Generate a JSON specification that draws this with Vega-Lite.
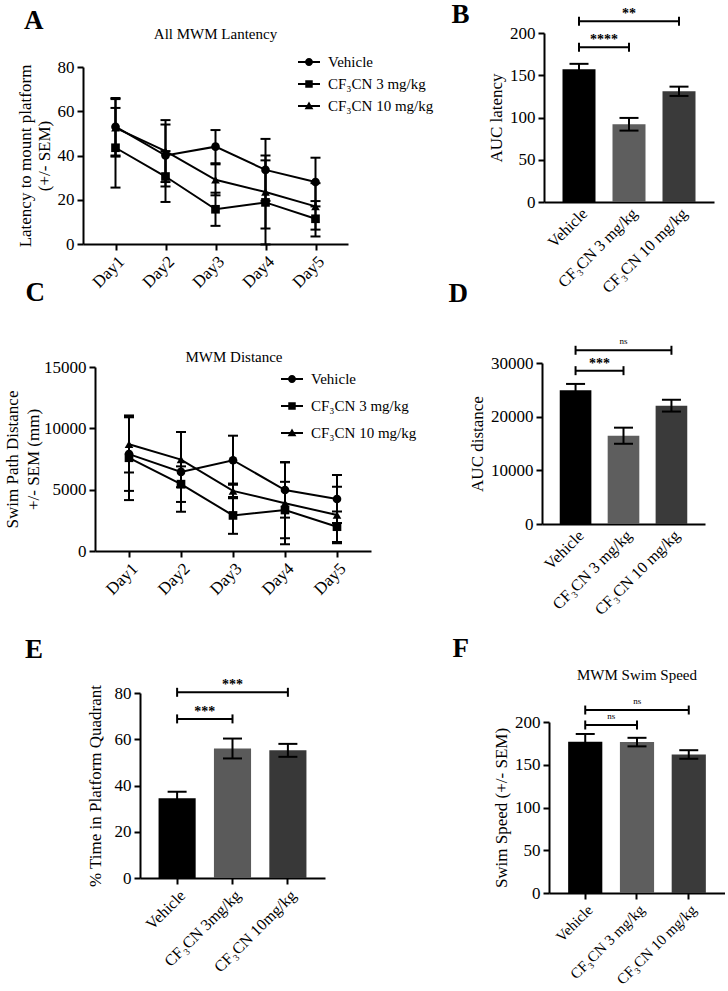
{
"$schema": "https://vega.github.io/schema/vega-lite/v6.json",
"padding": {"left": 3, "top": 1, "right": 0, "bottom": 0},
"spacing": -17,
"align": "each",
"resolve": {"scale": {"shape": "independent", "color": "independent"}, "legend": {"shape": "independent"}},
"config": {
  "font": "Liberation Serif",
  "view": {"stroke": null},
  "axis": {"domainColor": "#000", "domainWidth": 2, "tickColor": "#000", "tickWidth": 2, "tickSize": 6, "labelFont": "Liberation Serif", "labelFontSize": 17, "labelColor": "#000", "titleFont": "Liberation Serif", "titleFontSize": 17, "titleFontWeight": "normal", "titleColor": "#000", "grid": false, "labelPadding": 3},
  "legend": {"labelFont": "Liberation Serif", "labelFontSize": 15, "labelColor": "#000"},
  "title": {"font": "Liberation Serif", "color": "#000"}
},
"datasets": {
  "latency": [
    {"day": "Day1", "group": "Vehicle", "mean": 53, "sem": 13},
    {"day": "Day2", "group": "Vehicle", "mean": 40, "sem": 14},
    {"day": "Day3", "group": "Vehicle", "mean": 44, "sem": 7.5},
    {"day": "Day4", "group": "Vehicle", "mean": 33.5, "sem": 14},
    {"day": "Day5", "group": "Vehicle", "mean": 28, "sem": 11},
    {"day": "Day1", "group": "CF₃CN 3 mg/kg", "mean": 43.5, "sem": 18},
    {"day": "Day2", "group": "CF₃CN 3 mg/kg", "mean": 30.5, "sem": 11.5},
    {"day": "Day3", "group": "CF₃CN 3 mg/kg", "mean": 15.7, "sem": 7.5},
    {"day": "Day4", "group": "CF₃CN 3 mg/kg", "mean": 18.8, "sem": 19},
    {"day": "Day5", "group": "CF₃CN 3 mg/kg", "mean": 11.4, "sem": 8},
    {"day": "Day1", "group": "CF₃CN 10 mg/kg", "mean": 52.5, "sem": 13},
    {"day": "Day2", "group": "CF₃CN 10 mg/kg", "mean": 42, "sem": 14},
    {"day": "Day3", "group": "CF₃CN 10 mg/kg", "mean": 29, "sem": 7},
    {"day": "Day4", "group": "CF₃CN 10 mg/kg", "mean": 23.5, "sem": 16.5},
    {"day": "Day5", "group": "CF₃CN 10 mg/kg", "mean": 17, "sem": 10.5}
  ],
  "distance": [
    {"day": "Day1", "group": "Vehicle", "mean": 7900, "sem": 3000},
    {"day": "Day2", "group": "Vehicle", "mean": 6450, "sem": 3250},
    {"day": "Day3", "group": "Vehicle", "mean": 7400, "sem": 2000},
    {"day": "Day4", "group": "Vehicle", "mean": 4970, "sem": 2250},
    {"day": "Day5", "group": "Vehicle", "mean": 4240, "sem": 1950},
    {"day": "Day1", "group": "CF₃CN 3 mg/kg", "mean": 7600, "sem": 3450},
    {"day": "Day2", "group": "CF₃CN 3 mg/kg", "mean": 5450, "sem": 1450},
    {"day": "Day3", "group": "CF₃CN 3 mg/kg", "mean": 2900, "sem": 1500},
    {"day": "Day4", "group": "CF₃CN 3 mg/kg", "mean": 3340, "sem": 2300},
    {"day": "Day5", "group": "CF₃CN 3 mg/kg", "mean": 1980, "sem": 1250},
    {"day": "Day1", "group": "CF₃CN 10 mg/kg", "mean": 8700, "sem": 2300},
    {"day": "Day2", "group": "CF₃CN 10 mg/kg", "mean": 7450, "sem": 2250},
    {"day": "Day3", "group": "CF₃CN 10 mg/kg", "mean": 4900, "sem": 600},
    {"day": "Day4", "group": "CF₃CN 10 mg/kg", "mean": 3900, "sem": 3350},
    {"day": "Day5", "group": "CF₃CN 10 mg/kg", "mean": 2930, "sem": 2300}
  ],
  "aucLatency": [
    {"group": "Vehicle", "mean": 157, "sem": 6.5},
    {"group": "CF₃CN 3 mg/kg", "mean": 92, "sem": 7.5},
    {"group": "CF₃CN 10 mg/kg", "mean": 131, "sem": 5.5}
  ],
  "sigB": [
    {"from": "Vehicle", "to": "CF₃CN 3 mg/kg", "y": 183, "label": "****"},
    {"from": "Vehicle", "to": "CF₃CN 10 mg/kg", "y": 214, "label": "**"}
  ],
  "aucDistance": [
    {"group": "Vehicle", "mean": 24900, "sem": 1200},
    {"group": "CF₃CN 3 mg/kg", "mean": 16450, "sem": 1500},
    {"group": "CF₃CN 10 mg/kg", "mean": 22050, "sem": 1100}
  ],
  "sigD": [
    {"from": "Vehicle", "to": "CF₃CN 3 mg/kg", "y": 28570, "label": "***"},
    {"from": "Vehicle", "to": "CF₃CN 10 mg/kg", "y": 32370, "label": "ns"}
  ],
  "quadrant": [
    {"group": "Vehicle", "mean": 34.5, "sem": 2.8},
    {"group": "CF₃CN 3mg/kg", "mean": 56, "sem": 4.3},
    {"group": "CF₃CN 10mg/kg", "mean": 55.2, "sem": 2.8}
  ],
  "sigE": [
    {"from": "Vehicle", "to": "CF₃CN 3mg/kg", "y": 68.8, "label": "***"},
    {"from": "Vehicle", "to": "CF₃CN 10mg/kg", "y": 80.3, "label": "***"}
  ],
  "speed": [
    {"group": "Vehicle", "mean": 177, "sem": 9},
    {"group": "CF₃CN 3 mg/kg", "mean": 176.5, "sem": 5},
    {"group": "CF₃CN 10 mg/kg", "mean": 162, "sem": 5}
  ],
  "sigF": [
    {"from": "Vehicle", "to": "CF₃CN 3 mg/kg", "y": 196.5, "label": "ns"},
    {"from": "Vehicle", "to": "CF₃CN 10 mg/kg", "y": 214, "label": "ns"}
  ]
},
"vconcat": [
  {"hconcat": [
    {
      "title": {"text": "A", "anchor": "start", "frame": "bounds", "fontSize": 27, "fontWeight": "bold", "dx": 8, "dy": 8, "offset": 0},
      "vconcat": [{
        "title": {"text": "All MWM Lantency", "fontSize": 15, "fontWeight": "normal", "anchor": "middle", "frame": "group", "offset": 10, "dy": 19},
        "width": 265, "height": 211,
        "data": {"name": "latency"},
        "encoding": {
          "x": {"field": "day", "type": "ordinal", "scale": {"type": "point", "padding": 0.65, "domain": ["Day1", "Day2", "Day3", "Day4", "Day5"]}, "axis": {"title": null, "labelAngle": -45}},
          "y": {"field": "mean", "type": "quantitative", "scale": {"domain": [0, 80], "range": [211, 34]}, "axis": {"title": ["Latency to mount platform", "(+/- SEM)"], "titleLineHeight": 19, "values": [0, 20, 40, 60, 80]}}
        },
        "resolve": {"scale": {"shape": "independent"}},
        "layer": [
          {"mark": {"type": "line", "color": "black", "strokeWidth": 2}, "encoding": {"detail": {"field": "group", "type": "nominal"}}},
          {"mark": {"type": "errorbar", "color": "black", "ticks": {"opacity": 1}, "rule": {"opacity": 1}, "size": 10, "thickness": 2}, "encoding": {"yError": {"field": "sem"}}},
          {"mark": {"type": "point", "filled": true, "color": "black", "size": 75, "opacity": 1},
           "encoding": {"shape": {"field": "group", "type": "nominal", "scale": {"domain": ["Vehicle", "CF₃CN 3 mg/kg", "CF₃CN 10 mg/kg"], "range": ["circle", "square", "triangle-up"]}, "legend": null}}},
          {"transform": [{"filter": "false"}], "mark": {"type": "point", "filled": true, "color": "black", "opacity": 1},
           "encoding": {"shape": {"field": "group", "type": "nominal",
             "scale": {"domain": ["Vehicle", "CF₃CN 3 mg/kg", "CF₃CN 10 mg/kg"], "range": ["M-1,-0.09H1V0.09H-1Z M0.36,0A0.36,0.36,0,1,1,-0.36,0A0.36,0.36,0,1,1,0.36,0Z", "M-1,-0.09H1V0.09H-1Z M-0.34,-0.34H0.34V0.34H-0.34Z", "M-1,-0.09H1V0.09H-1Z M0,-0.42L0.4,0.3H-0.4Z"]},
             "legend": {"orient": "none", "legendX": 215, "legendY": 18, "title": null, "symbolSize": 484, "rowPadding": 3, "labelOffset": 8, "labelFontSize": 15, "symbolStrokeWidth": 0, "symbolOpacity": 1, "symbolFillColor": "black"}}}}
        ]
      }]
    },
    {
      "title": {"text": "B", "anchor": "start", "frame": "bounds", "fontSize": 27, "fontWeight": "bold", "dx": -36, "dy": 22, "offset": 0},
      "width": 170, "height": 169,
      "layer": [
        {"data": {"name": "aucLatency"}, "mark": {"type": "bar"},
         "encoding": {
           "x": {"field": "group", "type": "nominal", "scale": {"domain": ["Vehicle", "CF₃CN 3 mg/kg", "CF₃CN 10 mg/kg"], "paddingInner": 0.34, "paddingOuter": 0.37}, "axis": {"title": null, "labelAngle": -45, "ticks": false, "labelFontSize": 16}},
           "y": {"field": "mean", "type": "quantitative", "scale": {"domain": [0, 200]}, "axis": {"title": "AUC latency", "values": [0, 50, 100, 150, 200]}},
           "color": {"field": "group", "type": "nominal", "scale": {"domain": ["Vehicle", "CF₃CN 3 mg/kg", "CF₃CN 10 mg/kg"], "range": ["#000000", "#5e5e5e", "#3a3a3a"]}, "legend": null}
         }},
        {"data": {"name": "aucLatency"}, "mark": {"type": "errorbar", "color": "black", "ticks": {"opacity": 1}, "rule": {"opacity": 1}, "size": 19, "thickness": 2},
         "encoding": {
           "x": {"field": "group", "type": "nominal", "scale": {"domain": ["Vehicle", "CF₃CN 3 mg/kg", "CF₃CN 10 mg/kg"], "paddingInner": 0.34, "paddingOuter": 0.37}, "axis": {"title": null, "labelAngle": -45, "ticks": false, "labelFontSize": 16}},
           "y": {"field": "mean", "type": "quantitative", "scale": {"domain": [0, 200]}, "axis": {"title": "AUC latency", "values": [0, 50, 100, 150, 200]}},
           "yError": {"field": "sem"}
         }},
        {"data": {"name": "sigB"}, "mark": {"type": "rule", "color": "black", "strokeWidth": 2},
         "encoding": {
           "x": {"field": "from", "type": "nominal", "scale": {"domain": ["Vehicle", "CF₃CN 3 mg/kg", "CF₃CN 10 mg/kg"], "paddingInner": 0.34, "paddingOuter": 0.37}, "axis": {"title": null, "labelAngle": -45, "ticks": false, "labelFontSize": 16}},
           "x2": {"field": "to"},
           "y": {"field": "y", "type": "quantitative", "scale": {"domain": [0, 200]}, "axis": {"title": "AUC latency", "values": [0, 50, 100, 150, 200]}}
         }},
        {"data": {"name": "sigB"}, "mark": {"type": "tick", "orient": "vertical", "color": "black", "size": 9, "thickness": 2, "opacity": 1},
         "encoding": {
           "x": {"field": "from", "type": "nominal", "scale": {"domain": ["Vehicle", "CF₃CN 3 mg/kg", "CF₃CN 10 mg/kg"], "paddingInner": 0.34, "paddingOuter": 0.37}, "axis": {"title": null, "labelAngle": -45, "ticks": false, "labelFontSize": 16}},
           "y": {"field": "y", "type": "quantitative", "scale": {"domain": [0, 200]}, "axis": {"title": "AUC latency", "values": [0, 50, 100, 150, 200]}}
         }},
        {"data": {"name": "sigB"}, "mark": {"type": "tick", "orient": "vertical", "color": "black", "size": 9, "thickness": 2, "opacity": 1},
         "encoding": {
           "x": {"field": "to", "type": "nominal", "scale": {"domain": ["Vehicle", "CF₃CN 3 mg/kg", "CF₃CN 10 mg/kg"], "paddingInner": 0.34, "paddingOuter": 0.37}, "axis": {"title": null, "labelAngle": -45, "ticks": false, "labelFontSize": 16}},
           "y": {"field": "y", "type": "quantitative", "scale": {"domain": [0, 200]}, "axis": {"title": "AUC latency", "values": [0, 50, 100, 150, 200]}}
         }},
        {"data": {"name": "sigB"}, "transform": [{"filter": "datum.to === 'CF₃CN 3 mg/kg'"}], "mark": {"type": "text", "dx": 25, "dy": -3, "baseline": "alphabetic", "fontSize": 14, "fontWeight": "bold", "color": "black"},
         "encoding": {
           "x": {"field": "from", "type": "nominal", "scale": {"domain": ["Vehicle", "CF₃CN 3 mg/kg", "CF₃CN 10 mg/kg"], "paddingInner": 0.34, "paddingOuter": 0.37}, "axis": {"title": null, "labelAngle": -45, "ticks": false, "labelFontSize": 16}},
           "y": {"field": "y", "type": "quantitative", "scale": {"domain": [0, 200]}, "axis": {"title": "AUC latency", "values": [0, 50, 100, 150, 200]}},
           "text": {"field": "label"}
         }},
        {"data": {"name": "sigB"}, "transform": [{"filter": "datum.to === 'CF₃CN 10 mg/kg'"}], "mark": {"type": "text", "dx": 50, "dy": -3, "baseline": "alphabetic", "fontSize": 14, "fontWeight": "bold", "color": "black"},
         "encoding": {
           "x": {"field": "from", "type": "nominal", "scale": {"domain": ["Vehicle", "CF₃CN 3 mg/kg", "CF₃CN 10 mg/kg"], "paddingInner": 0.34, "paddingOuter": 0.37}, "axis": {"title": null, "labelAngle": -45, "ticks": false, "labelFontSize": 16}},
           "y": {"field": "y", "type": "quantitative", "scale": {"domain": [0, 200]}, "axis": {"title": "AUC latency", "values": [0, 50, 100, 150, 200]}},
           "text": {"field": "label"}
         }}
      ]
    }
  ], "spacing": 17},
  {"vconcat": [
  {"hconcat": [
    {
      "title": {"text": "C", "anchor": "start", "frame": "bounds", "fontSize": 27, "fontWeight": "bold", "dx": 22, "offset": 43},
      "vconcat": [{
        "title": {"text": "MWM Distance", "fontSize": 15, "fontWeight": "normal", "anchor": "middle", "frame": "group", "offset": 0, "dy": 7, "dx": 7},
        "width": 288, "height": 188,
        "data": {"name": "distance"},
        "encoding": {
          "x": {"field": "day", "type": "ordinal", "scale": {"type": "point", "padding": 0.654, "domain": ["Day1", "Day2", "Day3", "Day4", "Day5"], "range": [12, 288]}, "axis": {"title": null, "labelAngle": -45}},
          "y": {"field": "mean", "type": "quantitative", "scale": {"domain": [0, 15000], "range": [188, 4]}, "axis": {"title": ["Swim Path Distance", "+/- SEM (mm)"], "titleLineHeight": 21, "titlePadding": 1, "values": [0, 5000, 10000, 15000], "format": "d", "offset": -12}}
        },
        "resolve": {"scale": {"shape": "independent"}},
        "layer": [
          {"mark": {"type": "line", "color": "black", "strokeWidth": 2}, "encoding": {"detail": {"field": "group", "type": "nominal"}}},
          {"mark": {"type": "errorbar", "color": "black", "ticks": {"opacity": 1}, "rule": {"opacity": 1}, "size": 10, "thickness": 2}, "encoding": {"yError": {"field": "sem"}}},
          {"mark": {"type": "point", "filled": true, "color": "black", "size": 75, "opacity": 1},
           "encoding": {"shape": {"field": "group", "type": "nominal", "scale": {"domain": ["Vehicle", "CF₃CN 3 mg/kg", "CF₃CN 10 mg/kg"], "range": ["circle", "square", "triangle-up"]}, "legend": null}}},
          {"transform": [{"filter": "false"}], "mark": {"type": "point", "filled": true, "color": "black", "opacity": 1},
           "encoding": {"shape": {"field": "group", "type": "nominal",
             "scale": {"domain": ["Vehicle", "CF₃CN 3 mg/kg", "CF₃CN 10 mg/kg"], "range": ["M-1,-0.09H1V0.09H-1Z M0.36,0A0.36,0.36,0,1,1,-0.36,0A0.36,0.36,0,1,1,0.36,0Z", "M-1,-0.09H1V0.09H-1Z M-0.34,-0.34H0.34V0.34H-0.34Z", "M-1,-0.09H1V0.09H-1Z M0,-0.42L0.4,0.3H-0.4Z"]},
             "legend": {"orient": "none", "legendX": 198, "legendY": 5, "title": null, "symbolSize": 484, "rowPadding": 8, "labelOffset": 8, "labelFontSize": 15, "symbolStrokeWidth": 0, "symbolOpacity": 1, "symbolFillColor": "black"}}}}
        ]
      }]
    },
    {
      "title": {"text": "D", "anchor": "start", "frame": "bounds", "fontSize": 27, "fontWeight": "bold", "dx": -20, "offset": 29},
      "width": 163, "height": 161,
      "layer": [
        {"data": {"name": "aucDistance"}, "mark": {"type": "bar"},
         "encoding": {
           "x": {"field": "group", "type": "nominal", "scale": {"domain": ["Vehicle", "CF₃CN 3 mg/kg", "CF₃CN 10 mg/kg"], "paddingInner": 0.34, "paddingOuter": 0.37}, "axis": {"title": null, "labelAngle": -45, "ticks": false, "labelFontSize": 16}},
           "y": {"field": "mean", "type": "quantitative", "scale": {"domain": [0, 30000]}, "axis": {"title": "AUC distance", "values": [0, 10000, 20000, 30000], "format": "d"}},
           "color": {"field": "group", "type": "nominal", "scale": {"domain": ["Vehicle", "CF₃CN 3 mg/kg", "CF₃CN 10 mg/kg"], "range": ["#000000", "#5e5e5e", "#3a3a3a"]}, "legend": null}
         }},
        {"data": {"name": "aucDistance"}, "mark": {"type": "errorbar", "color": "black", "ticks": {"opacity": 1}, "rule": {"opacity": 1}, "size": 19, "thickness": 2},
         "encoding": {
           "x": {"field": "group", "type": "nominal", "scale": {"domain": ["Vehicle", "CF₃CN 3 mg/kg", "CF₃CN 10 mg/kg"], "paddingInner": 0.34, "paddingOuter": 0.37}, "axis": {"title": null, "labelAngle": -45, "ticks": false, "labelFontSize": 16}},
           "y": {"field": "mean", "type": "quantitative", "scale": {"domain": [0, 30000]}, "axis": {"title": "AUC distance", "values": [0, 10000, 20000, 30000], "format": "d"}},
           "yError": {"field": "sem"}
         }},
        {"data": {"name": "sigD"}, "mark": {"type": "rule", "color": "black", "strokeWidth": 2},
         "encoding": {
           "x": {"field": "from", "type": "nominal", "scale": {"domain": ["Vehicle", "CF₃CN 3 mg/kg", "CF₃CN 10 mg/kg"], "paddingInner": 0.34, "paddingOuter": 0.37}, "axis": {"title": null, "labelAngle": -45, "ticks": false, "labelFontSize": 16}},
           "x2": {"field": "to"},
           "y": {"field": "y", "type": "quantitative", "scale": {"domain": [0, 30000]}, "axis": {"title": "AUC distance", "values": [0, 10000, 20000, 30000], "format": "d"}}
         }},
        {"data": {"name": "sigD"}, "mark": {"type": "tick", "orient": "vertical", "color": "black", "size": 9, "thickness": 2, "opacity": 1},
         "encoding": {
           "x": {"field": "from", "type": "nominal", "scale": {"domain": ["Vehicle", "CF₃CN 3 mg/kg", "CF₃CN 10 mg/kg"], "paddingInner": 0.34, "paddingOuter": 0.37}, "axis": {"title": null, "labelAngle": -45, "ticks": false, "labelFontSize": 16}},
           "y": {"field": "y", "type": "quantitative", "scale": {"domain": [0, 30000]}, "axis": {"title": "AUC distance", "values": [0, 10000, 20000, 30000], "format": "d"}}
         }},
        {"data": {"name": "sigD"}, "mark": {"type": "tick", "orient": "vertical", "color": "black", "size": 9, "thickness": 2, "opacity": 1},
         "encoding": {
           "x": {"field": "to", "type": "nominal", "scale": {"domain": ["Vehicle", "CF₃CN 3 mg/kg", "CF₃CN 10 mg/kg"], "paddingInner": 0.34, "paddingOuter": 0.37}, "axis": {"title": null, "labelAngle": -45, "ticks": false, "labelFontSize": 16}},
           "y": {"field": "y", "type": "quantitative", "scale": {"domain": [0, 30000]}, "axis": {"title": "AUC distance", "values": [0, 10000, 20000, 30000], "format": "d"}}
         }},
        {"data": {"name": "sigD"}, "transform": [{"filter": "datum.to === 'CF₃CN 3 mg/kg'"}], "mark": {"type": "text", "dx": 24, "dy": -3, "baseline": "alphabetic", "fontSize": 14, "fontWeight": "bold", "color": "black"},
         "encoding": {
           "x": {"field": "from", "type": "nominal", "scale": {"domain": ["Vehicle", "CF₃CN 3 mg/kg", "CF₃CN 10 mg/kg"], "paddingInner": 0.34, "paddingOuter": 0.37}, "axis": {"title": null, "labelAngle": -45, "ticks": false, "labelFontSize": 16}},
           "y": {"field": "y", "type": "quantitative", "scale": {"domain": [0, 30000]}, "axis": {"title": "AUC distance", "values": [0, 10000, 20000, 30000], "format": "d"}},
           "text": {"field": "label"}
         }},
        {"data": {"name": "sigD"}, "transform": [{"filter": "datum.to === 'CF₃CN 10 mg/kg'"}], "mark": {"type": "text", "dx": 48, "dy": -6, "baseline": "alphabetic", "fontSize": 9, "color": "black"},
         "encoding": {
           "x": {"field": "from", "type": "nominal", "scale": {"domain": ["Vehicle", "CF₃CN 3 mg/kg", "CF₃CN 10 mg/kg"], "paddingInner": 0.34, "paddingOuter": 0.37}, "axis": {"title": null, "labelAngle": -45, "ticks": false, "labelFontSize": 16}},
           "y": {"field": "y", "type": "quantitative", "scale": {"domain": [0, 30000]}, "axis": {"title": "AUC distance", "values": [0, 10000, 20000, 30000], "format": "d"}},
           "text": {"field": "label"}
         }}
      ]
    }
  ], "spacing": 31},
  {"hconcat": [
    {
      "title": {"text": "E", "anchor": "start", "frame": "bounds", "fontSize": 27, "fontWeight": "bold", "dx": -58, "offset": 14},
      "width": 242, "height": 185,
      "layer": [
        {"data": {"name": "quadrant"}, "mark": {"type": "bar"},
         "encoding": {
           "x": {"field": "group", "type": "nominal", "scale": {"domain": ["Vehicle", "CF₃CN 3mg/kg", "CF₃CN 10mg/kg"], "paddingInner": 0.33, "paddingOuter": 0.335, "range": [57, 242]}, "axis": {"title": null, "labelAngle": -45, "labelFontSize": 16}},
           "y": {"field": "mean", "type": "quantitative", "scale": {"domain": [0, 80]}, "axis": {"title": "% Time in Platform Quadrant", "titlePadding": 10, "values": [0, 20, 40, 60, 80], "offset": -57}},
           "color": {"field": "group", "type": "nominal", "scale": {"domain": ["Vehicle", "CF₃CN 3mg/kg", "CF₃CN 10mg/kg"], "range": ["#000000", "#5a5a5a", "#383838"]}, "legend": null}
         }},
        {"data": {"name": "quadrant"}, "mark": {"type": "errorbar", "color": "black", "ticks": {"opacity": 1}, "rule": {"opacity": 1}, "size": 19, "thickness": 2},
         "encoding": {
           "x": {"field": "group", "type": "nominal", "scale": {"domain": ["Vehicle", "CF₃CN 3mg/kg", "CF₃CN 10mg/kg"], "paddingInner": 0.33, "paddingOuter": 0.335, "range": [57, 242]}, "axis": {"title": null, "labelAngle": -45, "labelFontSize": 16}},
           "y": {"field": "mean", "type": "quantitative", "scale": {"domain": [0, 80]}, "axis": {"title": "% Time in Platform Quadrant", "titlePadding": 10, "values": [0, 20, 40, 60, 80], "offset": -57}},
           "yError": {"field": "sem"}
         }},
        {"data": {"name": "sigE"}, "mark": {"type": "rule", "color": "black", "strokeWidth": 2},
         "encoding": {
           "x": {"field": "from", "type": "nominal", "scale": {"domain": ["Vehicle", "CF₃CN 3mg/kg", "CF₃CN 10mg/kg"], "paddingInner": 0.33, "paddingOuter": 0.335, "range": [57, 242]}, "axis": {"title": null, "labelAngle": -45, "labelFontSize": 16}},
           "x2": {"field": "to"},
           "y": {"field": "y", "type": "quantitative", "scale": {"domain": [0, 80]}, "axis": {"title": "% Time in Platform Quadrant", "titlePadding": 10, "values": [0, 20, 40, 60, 80], "offset": -57}}
         }},
        {"data": {"name": "sigE"}, "mark": {"type": "tick", "orient": "vertical", "color": "black", "size": 9, "thickness": 2, "opacity": 1},
         "encoding": {
           "x": {"field": "from", "type": "nominal", "scale": {"domain": ["Vehicle", "CF₃CN 3mg/kg", "CF₃CN 10mg/kg"], "paddingInner": 0.33, "paddingOuter": 0.335, "range": [57, 242]}, "axis": {"title": null, "labelAngle": -45, "labelFontSize": 16}},
           "y": {"field": "y", "type": "quantitative", "scale": {"domain": [0, 80]}, "axis": {"title": "% Time in Platform Quadrant", "titlePadding": 10, "values": [0, 20, 40, 60, 80], "offset": -57}}
         }},
        {"data": {"name": "sigE"}, "mark": {"type": "tick", "orient": "vertical", "color": "black", "size": 9, "thickness": 2, "opacity": 1},
         "encoding": {
           "x": {"field": "to", "type": "nominal", "scale": {"domain": ["Vehicle", "CF₃CN 3mg/kg", "CF₃CN 10mg/kg"], "paddingInner": 0.33, "paddingOuter": 0.335, "range": [57, 242]}, "axis": {"title": null, "labelAngle": -45, "labelFontSize": 16}},
           "y": {"field": "y", "type": "quantitative", "scale": {"domain": [0, 80]}, "axis": {"title": "% Time in Platform Quadrant", "titlePadding": 10, "values": [0, 20, 40, 60, 80], "offset": -57}}
         }},
        {"data": {"name": "sigE"}, "transform": [{"filter": "datum.to === 'CF₃CN 3mg/kg'"}], "mark": {"type": "text", "dx": 27.7, "dy": -3, "baseline": "alphabetic", "fontSize": 14, "fontWeight": "bold", "color": "black"},
         "encoding": {
           "x": {"field": "from", "type": "nominal", "scale": {"domain": ["Vehicle", "CF₃CN 3mg/kg", "CF₃CN 10mg/kg"], "paddingInner": 0.33, "paddingOuter": 0.335, "range": [57, 242]}, "axis": {"title": null, "labelAngle": -45, "labelFontSize": 16}},
           "y": {"field": "y", "type": "quantitative", "scale": {"domain": [0, 80]}, "axis": {"title": "% Time in Platform Quadrant", "titlePadding": 10, "values": [0, 20, 40, 60, 80], "offset": -57}},
           "text": {"field": "label"}
         }},
        {"data": {"name": "sigE"}, "transform": [{"filter": "datum.to === 'CF₃CN 10mg/kg'"}], "mark": {"type": "text", "dx": 55.4, "dy": -3, "baseline": "alphabetic", "fontSize": 14, "fontWeight": "bold", "color": "black"},
         "encoding": {
           "x": {"field": "from", "type": "nominal", "scale": {"domain": ["Vehicle", "CF₃CN 3mg/kg", "CF₃CN 10mg/kg"], "paddingInner": 0.33, "paddingOuter": 0.335, "range": [57, 242]}, "axis": {"title": null, "labelAngle": -45, "labelFontSize": 16}},
           "y": {"field": "y", "type": "quantitative", "scale": {"domain": [0, 80]}, "axis": {"title": "% Time in Platform Quadrant", "titlePadding": 10, "values": [0, 20, 40, 60, 80], "offset": -57}},
           "text": {"field": "label"}
         }}
      ]
    },
    {
      "title": {"text": "F", "anchor": "start", "frame": "bounds", "fontSize": 27, "fontWeight": "bold", "dx": -40, "offset": 5},
      "vconcat": [{
        "title": {"text": "MWM Swim Speed", "fontSize": 15, "fontWeight": "normal", "anchor": "middle", "frame": "group", "offset": 10},
        "width": 176, "height": 200,
        "layer": [
          {"data": {"name": "speed"}, "mark": {"type": "bar"},
           "encoding": {
             "x": {"field": "group", "type": "nominal", "scale": {"domain": ["Vehicle", "CF₃CN 3 mg/kg", "CF₃CN 10 mg/kg"], "paddingInner": 0.34, "paddingOuter": 0.37}, "axis": {"title": null, "labelAngle": -45, "labelFontSize": 15}},
             "y": {"field": "mean", "type": "quantitative", "scale": {"domain": [0, 200], "range": [200, 29]}, "axis": {"title": "Swim Speed  (+/- SEM)", "values": [0, 50, 100, 150, 200]}},
             "color": {"field": "group", "type": "nominal", "scale": {"domain": ["Vehicle", "CF₃CN 3 mg/kg", "CF₃CN 10 mg/kg"], "range": ["#000000", "#5e5e5e", "#3a3a3a"]}, "legend": null}
           }},
          {"data": {"name": "speed"}, "mark": {"type": "errorbar", "color": "black", "ticks": {"opacity": 1}, "rule": {"opacity": 1}, "size": 19, "thickness": 2},
           "encoding": {
             "x": {"field": "group", "type": "nominal", "scale": {"domain": ["Vehicle", "CF₃CN 3 mg/kg", "CF₃CN 10 mg/kg"], "paddingInner": 0.34, "paddingOuter": 0.37}, "axis": {"title": null, "labelAngle": -45, "labelFontSize": 15}},
             "y": {"field": "mean", "type": "quantitative", "scale": {"domain": [0, 200], "range": [200, 29]}, "axis": {"title": "Swim Speed  (+/- SEM)", "values": [0, 50, 100, 150, 200]}},
             "yError": {"field": "sem"}
           }},
          {"data": {"name": "sigF"}, "mark": {"type": "rule", "color": "black", "strokeWidth": 2},
           "encoding": {
             "x": {"field": "from", "type": "nominal", "scale": {"domain": ["Vehicle", "CF₃CN 3 mg/kg", "CF₃CN 10 mg/kg"], "paddingInner": 0.34, "paddingOuter": 0.37}, "axis": {"title": null, "labelAngle": -45, "labelFontSize": 15}},
             "x2": {"field": "to"},
             "y": {"field": "y", "type": "quantitative", "scale": {"domain": [0, 200], "range": [200, 29]}, "axis": {"title": "Swim Speed  (+/- SEM)", "values": [0, 50, 100, 150, 200]}}
           }},
          {"data": {"name": "sigF"}, "mark": {"type": "tick", "orient": "vertical", "color": "black", "size": 9, "thickness": 2, "opacity": 1},
           "encoding": {
             "x": {"field": "from", "type": "nominal", "scale": {"domain": ["Vehicle", "CF₃CN 3 mg/kg", "CF₃CN 10 mg/kg"], "paddingInner": 0.34, "paddingOuter": 0.37}, "axis": {"title": null, "labelAngle": -45, "labelFontSize": 15}},
             "y": {"field": "y", "type": "quantitative", "scale": {"domain": [0, 200], "range": [200, 29]}, "axis": {"title": "Swim Speed  (+/- SEM)", "values": [0, 50, 100, 150, 200]}}
           }},
          {"data": {"name": "sigF"}, "mark": {"type": "tick", "orient": "vertical", "color": "black", "size": 9, "thickness": 2, "opacity": 1},
           "encoding": {
             "x": {"field": "to", "type": "nominal", "scale": {"domain": ["Vehicle", "CF₃CN 3 mg/kg", "CF₃CN 10 mg/kg"], "paddingInner": 0.34, "paddingOuter": 0.37}, "axis": {"title": null, "labelAngle": -45, "labelFontSize": 15}},
             "y": {"field": "y", "type": "quantitative", "scale": {"domain": [0, 200], "range": [200, 29]}, "axis": {"title": "Swim Speed  (+/- SEM)", "values": [0, 50, 100, 150, 200]}}
           }},
          {"data": {"name": "sigF"}, "transform": [{"filter": "datum.to === 'CF₃CN 3 mg/kg'"}], "mark": {"type": "text", "dx": 26, "dy": -6, "baseline": "alphabetic", "fontSize": 9, "color": "black"},
           "encoding": {
             "x": {"field": "from", "type": "nominal", "scale": {"domain": ["Vehicle", "CF₃CN 3 mg/kg", "CF₃CN 10 mg/kg"], "paddingInner": 0.34, "paddingOuter": 0.37}, "axis": {"title": null, "labelAngle": -45, "labelFontSize": 15}},
             "y": {"field": "y", "type": "quantitative", "scale": {"domain": [0, 200], "range": [200, 29]}, "axis": {"title": "Swim Speed  (+/- SEM)", "values": [0, 50, 100, 150, 200]}},
             "text": {"field": "label"}
           }},
          {"data": {"name": "sigF"}, "transform": [{"filter": "datum.to === 'CF₃CN 10 mg/kg'"}], "mark": {"type": "text", "dx": 52, "dy": -6, "baseline": "alphabetic", "fontSize": 9, "color": "black"},
           "encoding": {
             "x": {"field": "from", "type": "nominal", "scale": {"domain": ["Vehicle", "CF₃CN 3 mg/kg", "CF₃CN 10 mg/kg"], "paddingInner": 0.34, "paddingOuter": 0.37}, "axis": {"title": null, "labelAngle": -45, "labelFontSize": 15}},
             "y": {"field": "y", "type": "quantitative", "scale": {"domain": [0, 200], "range": [200, 29]}, "axis": {"title": "Swim Speed  (+/- SEM)", "values": [0, 50, 100, 150, 200]}},
             "text": {"field": "label"}
           }}
        ]
      }]
    }
  ], "spacing": 127, "resolve": {"scale": {"color": "independent"}}}
  ], "spacing": 17, "align": "each"}
]
}
